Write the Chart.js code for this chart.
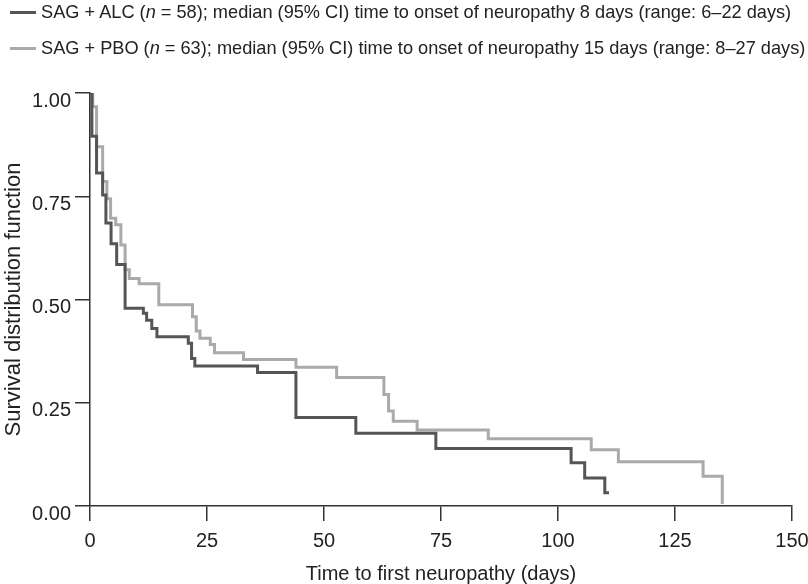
<!DOCTYPE html>
<html>
<head>
<meta charset="utf-8">
<script src="https://cdn.jsdelivr.net/npm/chart.js@4.4.1/dist/chart.umd.min.js"></script>
<style>
  html, body { margin: 0; padding: 0; background: #fff; overflow: hidden; }
  #wrap { position: relative; width: 808px; height: 584px; overflow: hidden; font-family: "Liberation Sans", Arial, sans-serif; }
  #km { position: absolute; left: 0; top: 0; }
  .leyenda { position: absolute; left: 0; width: 808px; height: 24px; line-height: 24px; font-size: 18.2px; color: #222; white-space: nowrap; overflow: hidden; }
  .leyenda .muestra { position: absolute; left: 10px; top: 11px; width: 26px; height: 3px; }
  .leyenda .texto { position: absolute; left: 41px; top: 0; }
</style>
</head>
<body>
<div id="wrap">
  <canvas id="km" width="808" height="584"></canvas>
  <div class="leyenda" style="top:0px"><span class="muestra" style="background:#555"></span><span class="texto">SAG + ALC (<i>n</i> = 58); median (95% CI) time to onset of neuropathy 8 days (range: 6–22 days)</span></div>
  <div class="leyenda" style="top:36px"><span class="muestra" style="background:#aaa"></span><span class="texto">SAG + PBO (<i>n</i> = 63); median (95% CI) time to onset of neuropathy 15 days (range: 8–27 days)</span></div>
</div>
<script>
// Curva Kaplan-Meier SAG + ALC (días, supervivencia)
const diasALC = [0, 0.4, 1.4, 2.7, 3.4, 4.5, 5.7, 7.5, 11.4, 12.1, 13.2, 14.3, 21.0, 21.7, 22.4, 35.8, 44.0, 56.8, 73.9, 102.8, 105.7, 110.0, 110.9];
const survALC = [1.0, 0.895, 0.806, 0.753, 0.685, 0.635, 0.585, 0.479, 0.467, 0.450, 0.430, 0.410, 0.394, 0.357, 0.339, 0.323, 0.214, 0.176, 0.139, 0.105, 0.068, 0.032, 0.032];

// Curva Kaplan-Meier SAG + PBO
const diasPBO = [0, 0.6, 1.4, 2.7, 3.6, 4.4, 5.5, 6.6, 7.5, 8.4, 10.5, 14.7, 21.9, 22.7, 23.5, 25.7, 26.6, 32.8, 44.0, 52.7, 62.8, 63.8, 64.8, 69.9, 85.1, 107.1, 112.9, 131.0, 135.1];
const survPBO = [1.0, 0.967, 0.870, 0.786, 0.744, 0.697, 0.681, 0.632, 0.572, 0.551, 0.538, 0.487, 0.458, 0.424, 0.406, 0.391, 0.371, 0.355, 0.336, 0.311, 0.270, 0.230, 0.205, 0.184, 0.163, 0.136, 0.107, 0.072, 0.005];

// Etiquetas de los ejes
const ticksX = [0, 25, 50, 75, 100, 125, 150];
const ticksY = [0, 0.25, 0.5, 0.75, 1];
const tituloX = 'Time to first neuropathy (days)';
const tituloY = 'Survival distribution function';

const puntos = (dias, surv) => dias.map((d, i) => ({ x: d, y: surv[i] }));

const familia = '"Liberation Sans", Arial, sans-serif';
const fuente = { family: familia, size: 20 };
const colorTexto = '#222';
const colorEje = '#333';

const ctx = document.getElementById('km').getContext('2d');

const grafica = new Chart(ctx, {
    type: 'line',
    data: {
        datasets: [
            {
                label: 'SAG + ALC',
                data: puntos(diasALC, survALC),
                borderColor: '#555555',
                borderWidth: 3,
                stepped: 'before',
                pointRadius: 0,
                fill: false
            },
            {
                label: 'SAG + PBO',
                data: puntos(diasPBO, survPBO),
                borderColor: '#aaaaaa',
                borderWidth: 3,
                stepped: 'before',
                pointRadius: 0,
                fill: false
            }
        ]
    },
    options: {
        responsive: false,
        animation: false,
        layout: { padding: { top: 93, right: 16, left: 0, bottom: 0 } },
        plugins: { legend: { display: false }, tooltip: { enabled: false } },
        scales: {
            x: {
                type: 'linear',
                min: 0,
                max: 150,
                afterBuildTicks: s => { s.ticks = ticksX.map(v => ({ value: v })); },
                afterFit: s => { s.height = 78; s.paddingLeft = 0; s.paddingRight = 0; },
                ticks: { font: fuente, color: colorTexto, padding: 8, maxRotation: 0 },
                grid: { drawOnChartArea: false, drawTicks: true, tickLength: 15, color: colorEje, lineWidth: 1.5 },
                border: { display: true, color: colorEje, width: 1.5 },
                title: { display: true, text: tituloX, font: { family: familia, size: 20, lineHeight: 1 }, color: colorTexto, padding: { top: 0, bottom: 0 } }
            },
            y: {
                min: 0,
                max: 1,
                afterBuildTicks: s => { s.ticks = ticksY.map(v => ({ value: v })); },
                afterFit: s => { s.width = 90; },
                ticks: { font: fuente, color: colorTexto, padding: 4, labelOffset: 8, callback: v => v.toFixed(2) },
                grid: { drawOnChartArea: false, drawTicks: true, tickLength: 15, color: colorEje, lineWidth: 1.5 },
                border: { display: true, color: colorEje, width: 1.5 },
                title: { display: true, text: tituloY, font: { family: familia, size: 22, lineHeight: 1.2 }, color: colorTexto, padding: { top: 1, bottom: 0 } }
            }
        }
    }
});
</script>
</body>
</html>
